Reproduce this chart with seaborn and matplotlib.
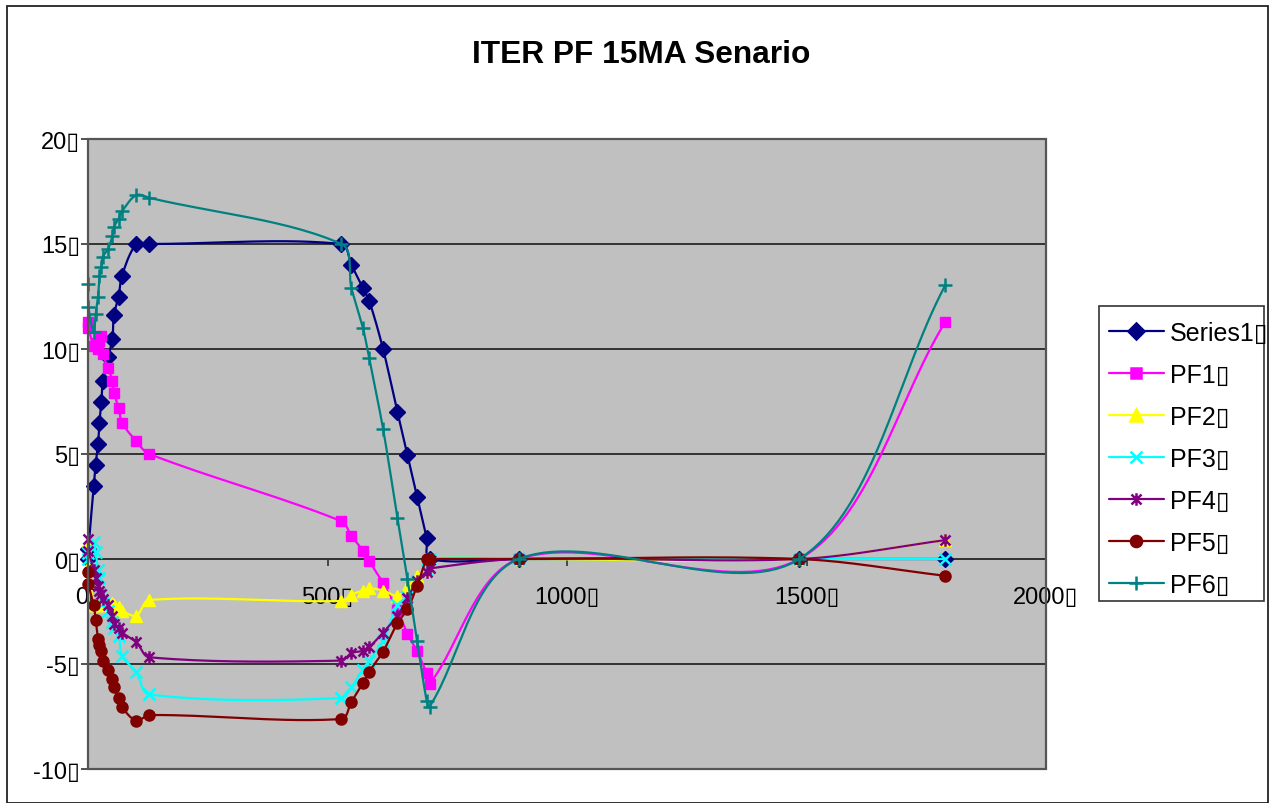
import numpy as np
import matplotlib
matplotlib.use("Agg")
import matplotlib.pyplot as plt
import seaborn as sns
from matplotlib.path import Path
from matplotlib.lines import Line2D
from matplotlib.patches import Rectangle

# ---------------- data ----------------
t = [0, 1, 12, 16, 21, 24, 28, 31, 42, 51, 54, 64, 71, 101, 128,
     529, 550, 574, 587, 616, 646, 667, 687, 707, 713, 899, 1485, 1790]

series1 = [0, 0.5, 3.5, 4.5, 5.5, 6.5, 7.5, 8.5, 9.6, 10.5, 11.6, 12.5, 13.5, 15, 15,
           15, 14, 12.9, 12.3, 10, 7, 4.95, 2.97, 0.98, 0, 0, 0, 0]
pf1 = [11.3, 11.0, 10.16, 10.3, 10.0, 10.4, 10.6, 9.76, 9.1, 8.5, 7.9, 7.2, 6.5, 5.6, 5.0,
       1.8, 1.1, 0.4, -0.1, -1.15, -2.45, -3.55, -4.4, -5.45, -5.95, 0, 0, 11.3]
pf2 = [0.87, -0.4, -2.2, -2.2, -2.1, -2.1, -2.2, -2.2, -2.2, -2.1, -2.2, -2.3, -2.46, -2.7, -1.95,
       -2.0, -1.7, -1.5, -1.4, -1.5, -1.75, -1.35, -0.8, -0.5, 0, 0, 0, 0.9]
pf3 = [0.3, 0.0, 0.8, 0.33, -0.5, -0.9, -1.7, -2.1, -2.46, -3.0, -3.3, -3.65, -4.6, -5.4, -6.45,
       -6.63, -6.1, -5.27, -4.84, -3.9, -2.2, -1.8, -1.03, -0.5, 0, 0, 0, 0]
pf4 = [0.95, 0.4, -0.5, -0.9, -1.3, -1.5, -1.67, -1.9, -2.2, -2.7, -3.1, -3.3, -3.5, -3.97, -4.68,
       -4.84, -4.48, -4.37, -4.2, -3.5, -2.7, -1.87, -1.03, -0.6, -0.45, 0, 0, 0.9]
pf5 = [-0.6, -1.2, -2.2, -2.9, -3.8, -4.1, -4.4, -4.84, -5.3, -5.7, -6.1, -6.6, -7.06, -7.7, -7.43,
       -7.62, -6.8, -5.9, -5.37, -4.41, -3.05, -2.4, -1.27, 0, 0, 0, 0, -0.8]
pf6 = [13.1, 12.0, 10.8, 11.67, 12.5, 13.5, 13.9, 14.4, 14.76, 15.4, 15.8, 16.2, 16.56, 17.33, 17.2,
       15.0, 12.9, 11.0, 9.55, 6.2, 1.95, -0.95, -3.9, -6.75, -7.03, 0, 0, 13.05]

labels = ["Series1", "PF1", "PF2", "PF3", "PF4", "PF5", "PF6"]
values = [series1, pf1, pf2, pf3, pf4, pf5, pf6]
colors = ["#000080", "#FF00FF", "#FFFF00", "#00FFFF", "#800080", "#800000", "#008080"]

x_ticks = [0, 500, 1000, 1500, 2000]
y_ticks = [-10, -5, 0, 5, 10, 15, 20]
title = "ITER PF 15MA Senario"
BOX = "\u25AF"

# ---------------- style ----------------
sns.set_theme(style="white")
plt.rcParams["font.family"] = ["Liberation Sans", "DejaVu Sans"]
plt.rcParams["text.color"] = "black"
plt.rcParams["xtick.color"] = "black"
plt.rcParams["ytick.color"] = "black"

star = Path([(-1, -1), (1, 1), (-1, 1), (1, -1), (0, -1.25), (0, 1.25)],
            [Path.MOVETO, Path.LINETO, Path.MOVETO, Path.LINETO, Path.MOVETO, Path.LINETO])
markers = ["D", "s", "^", "x", star, "o", "+"]
msizes = [8, 7.5, 8.5, 8.5, 9, 8, 10]

W, H = 1272, 804
AX_L, AX_R, AX_T, AX_B = 88, 1046, 140, 770
XMIN, XMAX, YMIN, YMAX = 0, 2000, -10, 20
SX = (AX_R - AX_L) / (XMAX - XMIN)     # px per x unit
SY = (AX_B - AX_T) / (YMAX - YMIN)     # px per y unit


def smooth(xs, ys, n=30):
    """Excel-like smoothed line: Bezier segments, tangents parallel to the
    neighbour chord, lengths weighted by chord lengths (computed in pixels)."""
    P = np.column_stack([np.asarray(xs, float) * SX, np.asarray(ys, float) * SY])
    m = len(P)
    out = [P[0]]
    s = np.linspace(0, 1, n + 1)[1:]
    for i in range(m - 1):
        p0 = P[max(i - 1, 0)]
        p1 = P[i]
        p2 = P[i + 1]
        p3 = P[min(i + 2, m - 1)]
        d01 = np.hypot(*(p1 - p0))
        d12 = np.hypot(*(p2 - p1))
        d23 = np.hypot(*(p3 - p2))
        if d12 == 0:
            continue
        c1 = p1 + (p2 - p0) * d12 / (3 * (d01 + d12))
        c2 = p2 - (p3 - p1) * d12 / (3 * (d12 + d23))
        b = ((1 - s) ** 3)[:, None] * p1 + (3 * s * (1 - s) ** 2)[:, None] * c1 \
            + (3 * s ** 2 * (1 - s))[:, None] * c2 + (s ** 3)[:, None] * p2
        out.extend(b)
    out = np.array(out)
    return out[:, 0] / SX, out[:, 1] / SY


fig = plt.figure(figsize=(W / 100, H / 100), dpi=100)
fig.patch.set_facecolor("white")
ax = fig.add_axes([AX_L / W, 1 - AX_B / H, (AX_R - AX_L) / W, (AX_B - AX_T) / H])
ax.set_facecolor("#C0C0C0")

for yv in y_ticks[1:-1]:
    ax.axhline(yv, color="#333333", lw=1.4, zorder=1)

for lab, vals, col, mk, ms in zip(labels, values, colors, markers, msizes):
    sx, sy = smooth(t, vals)
    sns.lineplot(x=sx, y=sy, sort=False, estimator=None, color=col, lw=1.6, ax=ax,
                 zorder=3)
    filled = mk not in ("x", "+") and not isinstance(mk, Path)
    ax.plot(t, vals, linestyle="none", marker=mk, ms=ms, color=col,
            mfc=col if filled else "none", mec=col, mew=1.8 if not filled else 1,
            zorder=3, clip_on=False)

ax.set_xlim(XMIN, XMAX)
ax.set_ylim(YMIN, YMAX)
ax.set_xticks(x_ticks)
ax.set_yticks(y_ticks)
ax.set_xticklabels([f"{v}{BOX}" for v in x_ticks])
ax.set_yticklabels([f"{v}{BOX}" for v in y_ticks])
ax.set_xlabel("")
ax.set_ylabel("")

for sp in ["top", "right", "left"]:
    ax.spines[sp].set_visible(False)
ax.spines["bottom"].set_position(("data", 0))
ax.spines["bottom"].set_color("#333333")
ax.spines["bottom"].set_linewidth(1.4)
ax.add_patch(Rectangle((0, 0), 1, 1, transform=ax.transAxes, fill=False,
                       edgecolor="#555555", lw=1.6, zorder=5, clip_on=False))
ax.tick_params(axis="x", direction="out", length=5, width=1.2, color="#333333",
               pad=14.5, bottom=True, labelsize=17, labelcolor="black")
ax.tick_params(axis="y", direction="out", length=5, width=1.2, color="#333333",
               pad=0.5, left=True, labelsize=17, labelcolor="black")

fig.text(641 / W, 1 - 55 / H, title, ha="center", va="center", fontsize=22.8,
         fontweight="bold", color="black")

handles = [Line2D([0], [0], color=c, lw=1.6, marker=m, ms=s,
                  mfc=c if (m not in ("x", "+") and not isinstance(m, Path)) else "none",
                  mec=c, mew=1.8)
           for c, m, s in zip(colors, markers, msizes)]
leg = fig.legend(handles, [f"{l}{BOX}" for l in labels], loc="upper left",
                 bbox_to_anchor=(1096 / W, 1 - 309 / H), frameon=False,
                 fontsize=18, handlelength=2.2, handletextpad=0.24, labelspacing=0.72,
                 borderpad=0.5, borderaxespad=0)
fig.add_artist(Rectangle((1099 / W, 1 - 602 / H), (1264 - 1099) / W, (602 - 307) / H,
                         transform=fig.transFigure, fill=True, facecolor="white",
                         edgecolor="#333333", lw=1.2, zorder=0.5))

fig.add_artist(Rectangle((7 / W, 0), (1268 - 7) / W, 1 - 7 / H, transform=fig.transFigure,
                         fill=False, edgecolor="#222222", lw=1.3))

fig.savefig("out.png", dpi=100)
